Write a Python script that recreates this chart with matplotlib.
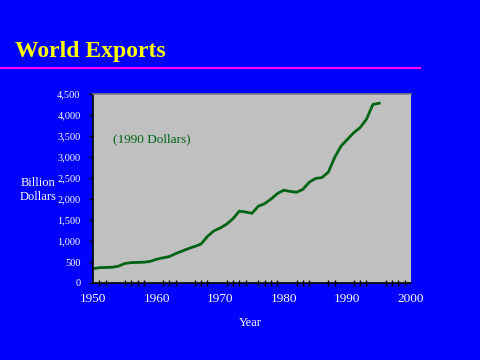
import matplotlib
matplotlib.use("Agg")
import matplotlib.pyplot as plt
from matplotlib.lines import Line2D

years = list(range(1950, 1996))
exports = [340, 365, 370, 375, 400, 465, 485, 490, 495, 515,
           565, 600, 630, 700, 760, 820, 870, 930, 1110, 1240,
           1310, 1400, 1530, 1710, 1690, 1660, 1830, 1890, 2000, 2130,
           2210, 2180, 2160, 2230, 2400, 2490, 2510, 2640, 2990, 3260,
           3420, 3580, 3700, 3900, 4250, 4280]
x_labels = [1950, 1960, 1970, 1980, 1990, 2000]
x_ticks_minor = [1951, 1952, 1955, 1956, 1957, 1958, 1960, 1961, 1962, 1963,
                 1966, 1967, 1968, 1971, 1972, 1973, 1974, 1976, 1977, 1978,
                 1979, 1982, 1983, 1984, 1987, 1988, 1991, 1992, 1993, 1996,
                 1997, 1998, 1999]
y_ticks = list(range(0, 4501, 500))

plt.rcParams['font.family'] = ['Liberation Serif', 'DejaVu Serif']

fig = plt.figure(figsize=(4.8, 3.6), dpi=100)
fig.patch.set_facecolor('#0000FF')

W, H = 480, 360
ax = fig.add_axes([93 / W, 1 - 283 / H, (411 - 93) / W, (283 - 94) / H])
ax.set_facecolor('#C0C0C0')
ax.plot(years, exports, color='#006414', linewidth=2.0, solid_joinstyle='miter')
ax.set_xlim(1950, 2000)
ax.set_ylim(0, 4500)

ax.set_yticks(y_ticks)
ax.set_yticklabels([f"{v:,}" for v in y_ticks])
ax.set_xticks(x_labels)
ax.set_xticklabels([str(v) for v in x_labels])
ax.set_xticks(x_ticks_minor, minor=True)

ax.tick_params(axis='y', colors='white', labelsize=7.5, length=3, width=1,
               direction='out', pad=6)
ax.tick_params(axis='y', color='black')
ax.tick_params(axis='x', which='major', colors='white', labelsize=9.5, length=0, pad=7)
ax.tick_params(axis='x', which='minor', color='black', length=4, width=1,
               direction='inout')

ax.spines['right'].set_visible(False)
ax.spines['top'].set_color('#808080')
ax.spines['top'].set_linewidth(1.2)
ax.spines['left'].set_color('black')
ax.spines['bottom'].set_color('black')
ax.spines['left'].set_linewidth(1.2)
ax.spines['bottom'].set_linewidth(1.2)

ax.text(0.062, 0.76, "(1990 Dollars)", transform=ax.transAxes, color='#006414',
        fontsize=9.5, ha='left', va='center')

fig.text(38 / W, 1 - 190 / H, "Billion\nDollars", color='white', fontsize=9,
         ha='center', va='center', linespacing=1.25)
fig.text(250 / W, 1 - 323 / H, "Year", color='white', fontsize=9,
         ha='center', va='center')

fig.text(15 / W, 1 - 51 / H, "World Exports", color='#FFFF00', fontsize=17,
         fontweight='bold', ha='left', va='center')
fig.add_artist(Line2D([1 / W, 420 / W], [1 - 68 / H, 1 - 68 / H], color='#FF00FF',
                      linewidth=1.6, transform=fig.transFigure))

fig.savefig("out.png", dpi=100, facecolor=fig.get_facecolor())
